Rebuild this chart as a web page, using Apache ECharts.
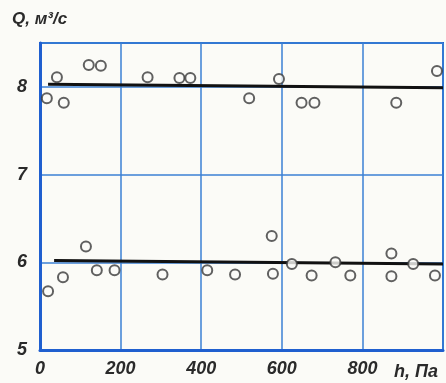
<!DOCTYPE html>
<html>
<head>
<meta charset="utf-8">
<script src="https://cdn.jsdelivr.net/npm/echarts@6/dist/echarts.min.js"></script>
<style>
html,body{margin:0;padding:0;background:#fbfbf7;}
#c{width:446px;height:383px;}
</style>
</head>
<body>
<div id="c"></div>
<script>
// Upper series (Q ≈ 8)
var upperH = [17, 42, 59, 121, 151, 267, 346, 373, 519, 593, 649, 681, 884, 985];
var upperQ = [7.87, 8.11, 7.82, 8.25, 8.24, 8.11, 8.10, 8.10, 7.87, 8.09, 7.82, 7.82, 7.82, 8.18];
// Lower series (Q ≈ 6)
var lowerH = [20, 57, 114, 141, 185, 304, 415, 484, 575, 578, 625, 674, 733, 770, 872, 872, 926, 980];
var lowerQ = [5.67, 5.83, 6.18, 5.91, 5.91, 5.86, 5.91, 5.86, 6.30, 5.87, 5.98, 5.85, 6.00, 5.85, 6.10, 5.84, 5.98, 5.85];
// Fitted lines
var upperFitH = [20, 1000];
var upperFitQ = [8.03, 7.99];
var lowerFitH = [35, 1000];
var lowerFitQ = [6.02, 5.98];
// Axis ticks
var xTicks = [0, 200, 400, 600, 800];
var yTicks = [5, 6, 7, 8];

function pairs(a, b) { return a.map(function (v, i) { return [v, b[i]]; }); }

var blue = '#1f5fcf';
var gridBlue = '#3b80d4';
var ink = '#2a2a2a';
var font = 'Liberation Sans';

var chart = echarts.init(document.getElementById('c'));
chart.setOption({
  backgroundColor: '#fbfbf7',
  animation: false,
  grid: { left: 40, right: 1, top: 43, bottom: 33, show: true, borderColor: blue, borderWidth: 2, backgroundColor: 'transparent' },
  xAxis: {
    type: 'value', min: 0, max: 1000, interval: 200,
    axisLine: { show: true, lineStyle: { color: blue, width: 3 } },
    axisTick: { show: false },
    splitLine: { show: true, lineStyle: { color: gridBlue, width: 1.5 } },
    axisLabel: {
      margin: 10, color: ink, fontStyle: 'italic', fontWeight: 'bold', fontFamily: font, fontSize: 18,
      formatter: function (v) { return xTicks.indexOf(v) >= 0 ? String(v) : ''; }
    }
  },
  yAxis: {
    type: 'value', min: 5, max: 8.5, interval: 1,
    axisLine: { show: true, lineStyle: { color: blue, width: 3 } },
    axisTick: { show: false },
    splitLine: { show: true, lineStyle: { color: gridBlue, width: 1.5 } },
    axisLabel: {
      margin: 13, color: ink, fontStyle: 'italic', fontWeight: 'bold', fontFamily: font, fontSize: 18,
      formatter: function (v) { return yTicks.indexOf(v) >= 0 ? String(v) : ''; }
    }
  },
  graphic: [
    { type: 'text', left: 12, top: 11, style: { text: 'Q, м³/с', fill: ink, font: 'italic bold 17px "Liberation Sans"' } },
    { type: 'text', left: 394, top: 363, style: { text: 'h, Па', fill: ink, font: 'italic bold 18px "Liberation Sans"' } }
  ],
  series: [
    { type: 'line', data: pairs(upperFitH, upperFitQ), symbol: 'none', lineStyle: { color: '#111', width: 3 }, z: 3 },
    { type: 'line', data: pairs(lowerFitH, lowerFitQ), symbol: 'none', lineStyle: { color: '#111', width: 3 }, z: 3 },
    { type: 'scatter', data: pairs(upperH, upperQ), symbol: 'circle', symbolSize: 10,
      itemStyle: { color: '#fbfbf7', borderColor: '#3a3a3a', borderWidth: 2 }, z: 4 },
    { type: 'scatter', data: pairs(lowerH, lowerQ), symbol: 'circle', symbolSize: 10,
      itemStyle: { color: '#fbfbf7', borderColor: '#3a3a3a', borderWidth: 2 }, z: 4 }
  ]
});
</script>
</body>
</html>
